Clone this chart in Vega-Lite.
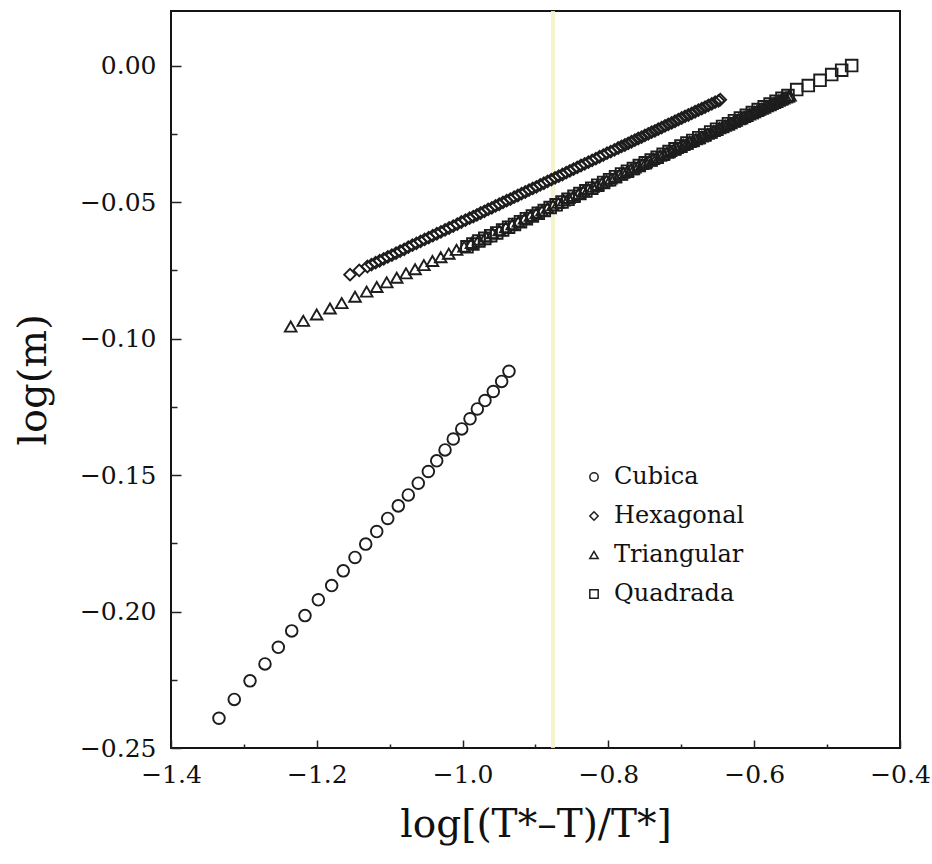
{
  "$schema": "https://vega.github.io/schema/vega-lite/v6.json",
  "width": 729,
  "height": 737,
  "autosize": {"type": "none"},
  "padding": {"left": 171, "top": 11, "right": 32, "bottom": 116},
  "background": "white",
  "config": {
    "view": {"stroke": "#151515", "strokeWidth": 2},
    "font": "DejaVu Serif"
  },
  "datasets": {
    "scan": [{"x": -0.876}],
    "m": [
      {"lattice":"Cubica","x":-1.3342,"y":-0.2391},{"lattice":"Cubica","x":-1.3132,"y":-0.2322},{"lattice":"Cubica","x":-1.2916,"y":-0.2254},{"lattice":"Cubica","x":-1.2711,"y":-0.2192},{"lattice":"Cubica","x":-1.2528,"y":-0.2131},{"lattice":"Cubica","x":-1.2344,"y":-0.2071},{"lattice":"Cubica","x":-1.2162,"y":-0.2015},{"lattice":"Cubica","x":-1.1979,"y":-0.1957},{"lattice":"Cubica","x":-1.1796,"y":-0.1905},{"lattice":"Cubica","x":-1.1637,"y":-0.1851},{"lattice":"Cubica","x":-1.1476,"y":-0.1802},{"lattice":"Cubica","x":-1.1329,"y":-0.1753},{"lattice":"Cubica","x":-1.1178,"y":-0.1707},{"lattice":"Cubica","x":-1.1027,"y":-0.1659},{"lattice":"Cubica","x":-1.0882,"y":-0.1613},{"lattice":"Cubica","x":-1.0745,"y":-0.1573},{"lattice":"Cubica","x":-1.0608,"y":-0.1530},{"lattice":"Cubica","x":-1.0470,"y":-0.1487},{"lattice":"Cubica","x":-1.0355,"y":-0.1448},{"lattice":"Cubica","x":-1.0241,"y":-0.1408},{"lattice":"Cubica","x":-1.0128,"y":-0.1368},{"lattice":"Cubica","x":-1.0012,"y":-0.1331},{"lattice":"Cubica","x":-0.9898,"y":-0.1294},{"lattice":"Cubica","x":-0.9798,"y":-0.1258},{"lattice":"Cubica","x":-0.9693,"y":-0.1227},{"lattice":"Cubica","x":-0.9579,"y":-0.1194},{"lattice":"Cubica","x":-0.9464,"y":-0.1157},{"lattice":"Cubica","x":-0.9364,"y":-0.1120},

      {"lattice":"Triangular","x":-1.2358,"y":-0.0956},{"lattice":"Triangular","x":-1.2185,"y":-0.0935},{"lattice":"Triangular","x":-1.2002,"y":-0.0912},{"lattice":"Triangular","x":-1.1819,"y":-0.0890},{"lattice":"Triangular","x":-1.1658,"y":-0.0870},{"lattice":"Triangular","x":-1.1476,"y":-0.0847},{"lattice":"Triangular","x":-1.1316,"y":-0.0828},{"lattice":"Triangular","x":-1.1178,"y":-0.0811},{"lattice":"Triangular","x":-1.1041,"y":-0.0794},{"lattice":"Triangular","x":-1.0904,"y":-0.0777},
      {"lattice":"Triangular","x":-1.0776,"y":-0.0761},{"lattice":"Triangular","x":-1.0652,"y":-0.0746},{"lattice":"Triangular","x":-1.0531,"y":-0.0731},{"lattice":"Triangular","x":-1.0414,"y":-0.0716},{"lattice":"Triangular","x":-1.0300,"y":-0.0702},{"lattice":"Triangular","x":-1.0190,"y":-0.0689},{"lattice":"Triangular","x":-1.0083,"y":-0.0675},{"lattice":"Triangular","x":-0.9979,"y":-0.0663},{"lattice":"Triangular","x":-0.9878,"y":-0.0650},{"lattice":"Triangular","x":-0.9779,"y":-0.0638},
      {"lattice":"Triangular","x":-0.9682,"y":-0.0626},{"lattice":"Triangular","x":-0.9589,"y":-0.0614},{"lattice":"Triangular","x":-0.9497,"y":-0.0603},{"lattice":"Triangular","x":-0.9407,"y":-0.0592},{"lattice":"Triangular","x":-0.9319,"y":-0.0581},{"lattice":"Triangular","x":-0.9234,"y":-0.0571},{"lattice":"Triangular","x":-0.9150,"y":-0.0560},{"lattice":"Triangular","x":-0.9069,"y":-0.0550},{"lattice":"Triangular","x":-0.8989,"y":-0.0540},{"lattice":"Triangular","x":-0.8911,"y":-0.0531},
      {"lattice":"Triangular","x":-0.8834,"y":-0.0521},{"lattice":"Triangular","x":-0.8760,"y":-0.0512},{"lattice":"Triangular","x":-0.8687,"y":-0.0503},{"lattice":"Triangular","x":-0.8615,"y":-0.0494},{"lattice":"Triangular","x":-0.8545,"y":-0.0485},{"lattice":"Triangular","x":-0.8476,"y":-0.0477},{"lattice":"Triangular","x":-0.8408,"y":-0.0469},{"lattice":"Triangular","x":-0.8342,"y":-0.0460},{"lattice":"Triangular","x":-0.8277,"y":-0.0452},{"lattice":"Triangular","x":-0.8213,"y":-0.0444},
      {"lattice":"Triangular","x":-0.8149,"y":-0.0437},{"lattice":"Triangular","x":-0.8087,"y":-0.0429},{"lattice":"Triangular","x":-0.8026,"y":-0.0421},{"lattice":"Triangular","x":-0.7966,"y":-0.0414},{"lattice":"Triangular","x":-0.7907,"y":-0.0407},{"lattice":"Triangular","x":-0.7849,"y":-0.0399},{"lattice":"Triangular","x":-0.7795,"y":-0.0393},{"lattice":"Triangular","x":-0.7741,"y":-0.0386},{"lattice":"Triangular","x":-0.7688,"y":-0.0380},{"lattice":"Triangular","x":-0.7637,"y":-0.0373},
      {"lattice":"Triangular","x":-0.7586,"y":-0.0367},{"lattice":"Triangular","x":-0.7535,"y":-0.0361},{"lattice":"Triangular","x":-0.7484,"y":-0.0354},{"lattice":"Triangular","x":-0.7435,"y":-0.0348},{"lattice":"Triangular","x":-0.7386,"y":-0.0342},{"lattice":"Triangular","x":-0.7337,"y":-0.0336},{"lattice":"Triangular","x":-0.7290,"y":-0.0330},{"lattice":"Triangular","x":-0.7243,"y":-0.0325},{"lattice":"Triangular","x":-0.7196,"y":-0.0319},{"lattice":"Triangular","x":-0.7150,"y":-0.0313},
      {"lattice":"Triangular","x":-0.7105,"y":-0.0308},{"lattice":"Triangular","x":-0.7060,"y":-0.0302},{"lattice":"Triangular","x":-0.7015,"y":-0.0296},{"lattice":"Triangular","x":-0.6970,"y":-0.0291},{"lattice":"Triangular","x":-0.6927,"y":-0.0286},{"lattice":"Triangular","x":-0.6885,"y":-0.0280},{"lattice":"Triangular","x":-0.6842,"y":-0.0275},{"lattice":"Triangular","x":-0.6799,"y":-0.0270},{"lattice":"Triangular","x":-0.6758,"y":-0.0265},{"lattice":"Triangular","x":-0.6717,"y":-0.0260},
      {"lattice":"Triangular","x":-0.6677,"y":-0.0255},{"lattice":"Triangular","x":-0.6636,"y":-0.0250},{"lattice":"Triangular","x":-0.6595,"y":-0.0245},{"lattice":"Triangular","x":-0.6554,"y":-0.0240},{"lattice":"Triangular","x":-0.6516,"y":-0.0235},{"lattice":"Triangular","x":-0.6477,"y":-0.0230},{"lattice":"Triangular","x":-0.6438,"y":-0.0225},{"lattice":"Triangular","x":-0.6399,"y":-0.0220},{"lattice":"Triangular","x":-0.6361,"y":-0.0216},{"lattice":"Triangular","x":-0.6322,"y":-0.0211},
      {"lattice":"Triangular","x":-0.6285,"y":-0.0206},{"lattice":"Triangular","x":-0.6249,"y":-0.0202},{"lattice":"Triangular","x":-0.6212,"y":-0.0197},{"lattice":"Triangular","x":-0.6175,"y":-0.0193},{"lattice":"Triangular","x":-0.6139,"y":-0.0188},{"lattice":"Triangular","x":-0.6102,"y":-0.0184},{"lattice":"Triangular","x":-0.6067,"y":-0.0179},{"lattice":"Triangular","x":-0.6033,"y":-0.0175},{"lattice":"Triangular","x":-0.5998,"y":-0.0171},{"lattice":"Triangular","x":-0.5963,"y":-0.0166},
      {"lattice":"Triangular","x":-0.5929,"y":-0.0162},{"lattice":"Triangular","x":-0.5894,"y":-0.0158},{"lattice":"Triangular","x":-0.5859,"y":-0.0154},{"lattice":"Triangular","x":-0.5825,"y":-0.0149},{"lattice":"Triangular","x":-0.5792,"y":-0.0145},{"lattice":"Triangular","x":-0.5759,"y":-0.0141},{"lattice":"Triangular","x":-0.5727,"y":-0.0137},{"lattice":"Triangular","x":-0.5694,"y":-0.0133},{"lattice":"Triangular","x":-0.5662,"y":-0.0129},{"lattice":"Triangular","x":-0.5629,"y":-0.0125},
      {"lattice":"Triangular","x":-0.5596,"y":-0.0121},{"lattice":"Triangular","x":-0.5564,"y":-0.0117},{"lattice":"Triangular","x":-0.5531,"y":-0.0113},{"lattice":"Triangular","x":-0.5509,"y":-0.0110},

      {"lattice":"Hexagonal","x":-1.1544,"y":-0.0766},{"lattice":"Hexagonal","x":-1.1418,"y":-0.0750},{"lattice":"Hexagonal","x":-1.1306,"y":-0.0736},{"lattice":"Hexagonal","x":-1.1250,"y":-0.0729},{"lattice":"Hexagonal","x":-1.1194,"y":-0.0722},{"lattice":"Hexagonal","x":-1.1138,"y":-0.0715},{"lattice":"Hexagonal","x":-1.1082,"y":-0.0708},{"lattice":"Hexagonal","x":-1.1026,"y":-0.0701},{"lattice":"Hexagonal","x":-1.0970,"y":-0.0694},{"lattice":"Hexagonal","x":-1.0913,"y":-0.0687},
      {"lattice":"Hexagonal","x":-1.0857,"y":-0.0680},{"lattice":"Hexagonal","x":-1.0801,"y":-0.0673},{"lattice":"Hexagonal","x":-1.0745,"y":-0.0665},{"lattice":"Hexagonal","x":-1.0689,"y":-0.0658},{"lattice":"Hexagonal","x":-1.0633,"y":-0.0651},{"lattice":"Hexagonal","x":-1.0577,"y":-0.0644},{"lattice":"Hexagonal","x":-1.0521,"y":-0.0637},{"lattice":"Hexagonal","x":-1.0465,"y":-0.0630},{"lattice":"Hexagonal","x":-1.0409,"y":-0.0623},{"lattice":"Hexagonal","x":-1.0353,"y":-0.0616},
      {"lattice":"Hexagonal","x":-1.0297,"y":-0.0609},{"lattice":"Hexagonal","x":-1.0241,"y":-0.0602},{"lattice":"Hexagonal","x":-1.0185,"y":-0.0595},{"lattice":"Hexagonal","x":-1.0129,"y":-0.0588},{"lattice":"Hexagonal","x":-1.0073,"y":-0.0581},{"lattice":"Hexagonal","x":-1.0017,"y":-0.0573},{"lattice":"Hexagonal","x":-0.9961,"y":-0.0566},{"lattice":"Hexagonal","x":-0.9904,"y":-0.0559},{"lattice":"Hexagonal","x":-0.9853,"y":-0.0553},{"lattice":"Hexagonal","x":-0.9803,"y":-0.0547},
      {"lattice":"Hexagonal","x":-0.9752,"y":-0.0540},{"lattice":"Hexagonal","x":-0.9701,"y":-0.0534},{"lattice":"Hexagonal","x":-0.9650,"y":-0.0527},{"lattice":"Hexagonal","x":-0.9599,"y":-0.0521},{"lattice":"Hexagonal","x":-0.9548,"y":-0.0514},{"lattice":"Hexagonal","x":-0.9497,"y":-0.0508},{"lattice":"Hexagonal","x":-0.9446,"y":-0.0501},{"lattice":"Hexagonal","x":-0.9395,"y":-0.0495},{"lattice":"Hexagonal","x":-0.9344,"y":-0.0489},{"lattice":"Hexagonal","x":-0.9293,"y":-0.0482},
      {"lattice":"Hexagonal","x":-0.9242,"y":-0.0476},{"lattice":"Hexagonal","x":-0.9191,"y":-0.0469},{"lattice":"Hexagonal","x":-0.9140,"y":-0.0463},{"lattice":"Hexagonal","x":-0.9089,"y":-0.0456},{"lattice":"Hexagonal","x":-0.9038,"y":-0.0450},{"lattice":"Hexagonal","x":-0.8987,"y":-0.0444},{"lattice":"Hexagonal","x":-0.8936,"y":-0.0437},{"lattice":"Hexagonal","x":-0.8885,"y":-0.0431},{"lattice":"Hexagonal","x":-0.8834,"y":-0.0424},{"lattice":"Hexagonal","x":-0.8783,"y":-0.0418},
      {"lattice":"Hexagonal","x":-0.8732,"y":-0.0411},{"lattice":"Hexagonal","x":-0.8681,"y":-0.0405},{"lattice":"Hexagonal","x":-0.8630,"y":-0.0399},{"lattice":"Hexagonal","x":-0.8579,"y":-0.0392},{"lattice":"Hexagonal","x":-0.8529,"y":-0.0386},{"lattice":"Hexagonal","x":-0.8478,"y":-0.0379},{"lattice":"Hexagonal","x":-0.8427,"y":-0.0373},{"lattice":"Hexagonal","x":-0.8376,"y":-0.0366},{"lattice":"Hexagonal","x":-0.8325,"y":-0.0360},{"lattice":"Hexagonal","x":-0.8274,"y":-0.0354},
      {"lattice":"Hexagonal","x":-0.8223,"y":-0.0347},{"lattice":"Hexagonal","x":-0.8172,"y":-0.0341},{"lattice":"Hexagonal","x":-0.8121,"y":-0.0334},{"lattice":"Hexagonal","x":-0.8070,"y":-0.0328},{"lattice":"Hexagonal","x":-0.8019,"y":-0.0321},{"lattice":"Hexagonal","x":-0.7968,"y":-0.0315},{"lattice":"Hexagonal","x":-0.7917,"y":-0.0309},{"lattice":"Hexagonal","x":-0.7866,"y":-0.0302},{"lattice":"Hexagonal","x":-0.7820,"y":-0.0296},{"lattice":"Hexagonal","x":-0.7774,"y":-0.0291},
      {"lattice":"Hexagonal","x":-0.7728,"y":-0.0285},{"lattice":"Hexagonal","x":-0.7683,"y":-0.0279},{"lattice":"Hexagonal","x":-0.7637,"y":-0.0273},{"lattice":"Hexagonal","x":-0.7591,"y":-0.0267},{"lattice":"Hexagonal","x":-0.7545,"y":-0.0262},{"lattice":"Hexagonal","x":-0.7499,"y":-0.0256},{"lattice":"Hexagonal","x":-0.7453,"y":-0.0250},{"lattice":"Hexagonal","x":-0.7407,"y":-0.0244},{"lattice":"Hexagonal","x":-0.7362,"y":-0.0239},{"lattice":"Hexagonal","x":-0.7316,"y":-0.0233},
      {"lattice":"Hexagonal","x":-0.7270,"y":-0.0227},{"lattice":"Hexagonal","x":-0.7224,"y":-0.0221},{"lattice":"Hexagonal","x":-0.7178,"y":-0.0215},{"lattice":"Hexagonal","x":-0.7132,"y":-0.0210},{"lattice":"Hexagonal","x":-0.7086,"y":-0.0204},{"lattice":"Hexagonal","x":-0.7041,"y":-0.0198},{"lattice":"Hexagonal","x":-0.6995,"y":-0.0192},{"lattice":"Hexagonal","x":-0.6949,"y":-0.0186},{"lattice":"Hexagonal","x":-0.6903,"y":-0.0181},{"lattice":"Hexagonal","x":-0.6857,"y":-0.0175},
      {"lattice":"Hexagonal","x":-0.6811,"y":-0.0169},{"lattice":"Hexagonal","x":-0.6765,"y":-0.0163},{"lattice":"Hexagonal","x":-0.6719,"y":-0.0158},{"lattice":"Hexagonal","x":-0.6674,"y":-0.0152},{"lattice":"Hexagonal","x":-0.6628,"y":-0.0146},{"lattice":"Hexagonal","x":-0.6582,"y":-0.0140},{"lattice":"Hexagonal","x":-0.6536,"y":-0.0134},{"lattice":"Hexagonal","x":-0.6490,"y":-0.0129},{"lattice":"Hexagonal","x":-0.6465,"y":-0.0125},

      {"lattice":"Quadrada","x":-0.9940,"y":-0.0664},{"lattice":"Quadrada","x":-0.9859,"y":-0.0654},{"lattice":"Quadrada","x":-0.9777,"y":-0.0643},{"lattice":"Quadrada","x":-0.9696,"y":-0.0633},{"lattice":"Quadrada","x":-0.9614,"y":-0.0623},{"lattice":"Quadrada","x":-0.9532,"y":-0.0613},{"lattice":"Quadrada","x":-0.9451,"y":-0.0602},{"lattice":"Quadrada","x":-0.9369,"y":-0.0592},{"lattice":"Quadrada","x":-0.9288,"y":-0.0582},{"lattice":"Quadrada","x":-0.9206,"y":-0.0572},
      {"lattice":"Quadrada","x":-0.9125,"y":-0.0561},{"lattice":"Quadrada","x":-0.9043,"y":-0.0551},{"lattice":"Quadrada","x":-0.8962,"y":-0.0541},{"lattice":"Quadrada","x":-0.8880,"y":-0.0531},{"lattice":"Quadrada","x":-0.8799,"y":-0.0520},{"lattice":"Quadrada","x":-0.8717,"y":-0.0510},{"lattice":"Quadrada","x":-0.8636,"y":-0.0500},{"lattice":"Quadrada","x":-0.8554,"y":-0.0490},{"lattice":"Quadrada","x":-0.8472,"y":-0.0479},{"lattice":"Quadrada","x":-0.8391,"y":-0.0469},
      {"lattice":"Quadrada","x":-0.8309,"y":-0.0459},{"lattice":"Quadrada","x":-0.8228,"y":-0.0449},{"lattice":"Quadrada","x":-0.8146,"y":-0.0438},{"lattice":"Quadrada","x":-0.8065,"y":-0.0428},{"lattice":"Quadrada","x":-0.7983,"y":-0.0418},{"lattice":"Quadrada","x":-0.7902,"y":-0.0407},{"lattice":"Quadrada","x":-0.7820,"y":-0.0397},{"lattice":"Quadrada","x":-0.7739,"y":-0.0387},{"lattice":"Quadrada","x":-0.7657,"y":-0.0377},{"lattice":"Quadrada","x":-0.7576,"y":-0.0366},
      {"lattice":"Quadrada","x":-0.7494,"y":-0.0356},{"lattice":"Quadrada","x":-0.7413,"y":-0.0346},{"lattice":"Quadrada","x":-0.7331,"y":-0.0336},{"lattice":"Quadrada","x":-0.7249,"y":-0.0325},{"lattice":"Quadrada","x":-0.7168,"y":-0.0315},{"lattice":"Quadrada","x":-0.7086,"y":-0.0305},{"lattice":"Quadrada","x":-0.7005,"y":-0.0295},{"lattice":"Quadrada","x":-0.6923,"y":-0.0284},{"lattice":"Quadrada","x":-0.6842,"y":-0.0274},{"lattice":"Quadrada","x":-0.6760,"y":-0.0264},
      {"lattice":"Quadrada","x":-0.6679,"y":-0.0254},{"lattice":"Quadrada","x":-0.6597,"y":-0.0243},{"lattice":"Quadrada","x":-0.6516,"y":-0.0233},{"lattice":"Quadrada","x":-0.6434,"y":-0.0223},{"lattice":"Quadrada","x":-0.6353,"y":-0.0213},{"lattice":"Quadrada","x":-0.6271,"y":-0.0202},{"lattice":"Quadrada","x":-0.6189,"y":-0.0192},{"lattice":"Quadrada","x":-0.6108,"y":-0.0182},{"lattice":"Quadrada","x":-0.6026,"y":-0.0172},{"lattice":"Quadrada","x":-0.5945,"y":-0.0161},
      {"lattice":"Quadrada","x":-0.5863,"y":-0.0151},{"lattice":"Quadrada","x":-0.5782,"y":-0.0141},{"lattice":"Quadrada","x":-0.5700,"y":-0.0131},{"lattice":"Quadrada","x":-0.5619,"y":-0.0120},{"lattice":"Quadrada","x":-0.5537,"y":-0.0110},{"lattice":"Quadrada","x":-0.5417,"y":-0.0088},{"lattice":"Quadrada","x":-0.5258,"y":-0.0073},{"lattice":"Quadrada","x":-0.5097,"y":-0.0054},{"lattice":"Quadrada","x":-0.4937,"y":-0.0033},{"lattice":"Quadrada","x":-0.4800,"y":-0.0017},
      {"lattice":"Quadrada","x":-0.4663,"y":0.0000}
    ]
  },
  "layer": [
    {
      "data": {"name": "scan"},
      "mark": {"type": "rule", "color": "#f4f2c4", "strokeWidth": 4, "opacity": 0.85},
      "encoding": {
        "x": {
          "field": "x", "type": "quantitative",
          "scale": {"domain": [-1.4, -0.4], "nice": false, "zero": false},
          "axis": {
            "orient": "bottom", "values": [-1.3, -1.1, -0.9, -0.7, -0.5],
            "labels": false, "domain": false, "grid": false, "title": null,
            "tickSize": -4, "tickColor": "#222", "tickWidth": 1.5
          }
        }
      }
    },
    {
      "data": {"name": "m"},
      "mark": {"type": "point", "filled": false, "color": "#1d1d1d", "strokeWidth": 1.9, "size": 135, "opacity": 1},
      "encoding": {
        "x": {
          "field": "x", "type": "quantitative",
          "axis": {
            "orient": "bottom", "values": [-1.4, -1.2, -1.0, -0.8, -0.6, -0.4], "format": ".1f",
            "title": "log[(T*–T)/T*]", "domain": false, "grid": false,
            "tickSize": -8, "tickWidth": 1.5, "tickColor": "#222",
            "labelFont": "DejaVu Serif", "labelFontSize": 25, "labelColor": "#111",
            "labelPadding": 22, "labelFlush": false, "labelOverlap": false,
            "titleFont": "DejaVu Serif", "titleFontSize": 39, "titleFontWeight": "normal",
            "titleColor": "#111", "titlePadding": 18
          }
        },
        "y": {
          "field": "y", "type": "quantitative",
          "scale": {"domain": [-0.25, 0.02], "nice": false, "zero": false},
          "axis": {
            "orient": "left", "values": [0, -0.05, -0.1, -0.15, -0.2, -0.25], "format": ".2f",
            "title": "log(m)", "domain": false, "grid": false,
            "tickSize": -10, "tickWidth": 1.5, "tickColor": "#222",
            "labelFont": "DejaVu Serif", "labelFontSize": 25, "labelColor": "#111",
            "labelPadding": 25, "labelFlush": false, "labelOverlap": false,
            "titleFont": "DejaVu Serif", "titleFontSize": 40, "titleFontWeight": "normal",
            "titleColor": "#111", "titlePadding": 26
          }
        },
        "shape": {
          "field": "lattice", "type": "nominal",
          "scale": {"domain": ["Cubica", "Hexagonal", "Triangular", "Quadrada"], "range": ["circle", "diamond", "triangle-up", "square"]},
          "legend": {
            "orient": "none", "legendX": 411, "legendY": 454, "title": null, "padding": 0,
            "labelFont": "DejaVu Serif", "labelFontSize": 24, "labelColor": "#111",
            "symbolSize": 70, "symbolStrokeWidth": 1.5, "symbolStrokeColor": "#1d1d1d", "symbolFillColor": "transparent",
            "rowPadding": 15, "labelOffset": 8
          }
        }
      }
    },
    {
      "data": {"name": "m"},
      "mark": {"type": "point", "opacity": 0},
      "encoding": {
        "x": {"field": "x", "type": "quantitative", "axis": null},
        "y": {
          "field": "y", "type": "quantitative",
          "axis": {
            "orient": "left", "values": [-0.025, -0.075, -0.125, -0.175, -0.225],
            "labels": false, "domain": false, "grid": false, "title": null,
            "tickSize": -6, "tickColor": "#222", "tickWidth": 1.5
          }
        }
      }
    }
  ],
  "resolve": {"axis": {"x": "independent", "y": "independent"}}
}
